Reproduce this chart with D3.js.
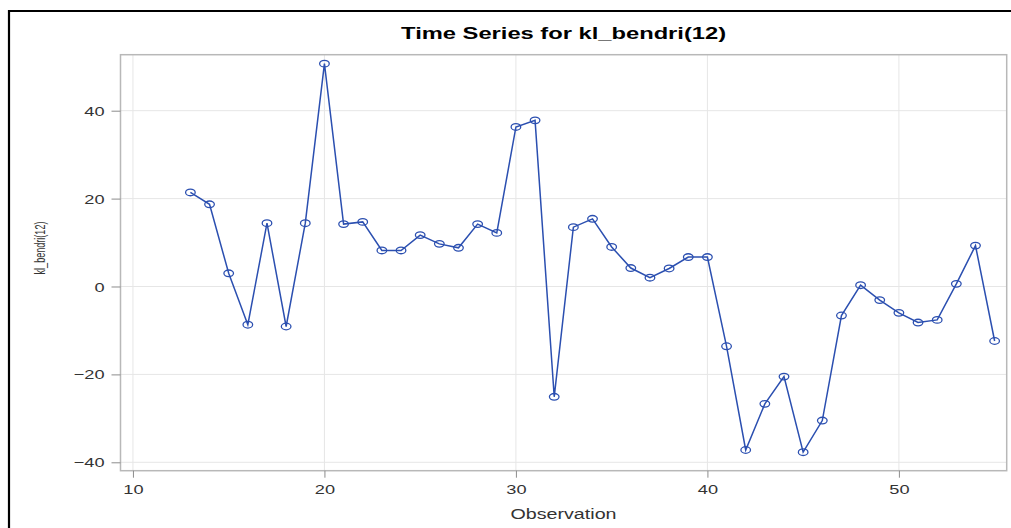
<!DOCTYPE html>
<html><head><meta charset="utf-8">
<script src="https://cdn.jsdelivr.net/npm/d3@7"></script>
<style>body{margin:0;background:#fff}svg{display:block}text{font-family:"Liberation Sans",Arial,sans-serif}</style>
</head><body><svg id="c" width="1011" height="528"></svg>
<script>
const title = "Time Series for kl_bendri(12)";
const xLabel = "Observation";
const yLabel = "kl_bendri(12)";
const observations = [13,14,15,16,17,18,19,20,21,22,23,24,25,26,27,28,29,30,31,32,33,34,35,36,37,38,39,40,41,42,43,44,45,46,47,48,49,50,51,52,53,54,55];
const values = [21.4,18.7,3.0,-8.7,14.4,-9.1,14.4,50.7,14.2,14.7,8.2,8.2,11.7,9.7,8.8,14.2,12.2,36.3,37.8,-25.1,13.5,15.4,9.0,4.2,2.0,4.1,6.7,6.7,-13.6,-37.2,-26.7,-20.5,-37.7,-30.5,-6.6,0.3,-3.1,-6.0,-8.2,-7.6,0.6,9.3,-12.4];
const xTicks = [10,20,30,40,50];
const yTicks = [-40,-20,0,20,40];

const svg = d3.select("#c");
const L = 120.5, R = 1006.7, T = 54.7, B = 470.7;
const SX = 1.4;
const x = d3.scaleLinear().domain([9.35, 55.63]).range([L, R]);
const y = d3.scaleLinear().domain([-41.91, 52.74]).range([B, T]);

// outer border
svg.append("path").attr("d", "M9,528V11H1011").attr("fill", "none").attr("stroke", "#000").attr("stroke-width", 2.2);

// gridlines
const g = svg.append("g");
g.selectAll(".gx").data(xTicks).join("line")
  .attr("x1", d => x(d)).attr("x2", d => x(d)).attr("y1", T).attr("y2", B)
  .attr("stroke", "#e6e6e6").attr("stroke-width", 1);
g.selectAll(".gy").data(yTicks).join("line")
  .attr("y1", d => y(d)).attr("y2", d => y(d)).attr("x1", L).attr("x2", R)
  .attr("stroke", "#e6e6e6").attr("stroke-width", 1);

// frame
svg.append("rect").attr("x", L).attr("y", T).attr("width", R - L).attr("height", B - T)
  .attr("fill", "none").attr("stroke", "#b8b8b8").attr("stroke-width", 1.5);

// axes
const xa = svg.append("g").attr("transform", `translate(0,${B})`)
  .call(d3.axisBottom(x).tickValues(xTicks).tickSize(7).tickSizeOuter(0));
xa.select(".domain").remove();
xa.selectAll("line").attr("stroke", "#8c8c8c");
xa.selectAll("text").attr("y", 0).attr("dy", 0).attr("transform", `translate(0,23.5) scale(${SX},1)`)
  .attr("font-size", 13).attr("fill", "#333");

const ya = svg.append("g").attr("transform", `translate(${L},0)`)
  .call(d3.axisLeft(y).tickValues(yTicks).tickSize(9).tickSizeOuter(0));
ya.select(".domain").remove();
ya.selectAll("line").attr("stroke", "#8c8c8c");
ya.selectAll("text").attr("x", 0).attr("dy", "0.35em").attr("transform", `translate(-16,0) scale(${SX},1)`)
  .attr("font-size", 13).attr("fill", "#333");

// line
const data = observations.map((o, i) => ({o, v: values[i]}));
svg.append("path").datum(data)
  .attr("d", d3.line().x(d => x(d.o)).y(d => y(d.v)))
  .attr("fill", "none").attr("stroke", "#2b4fb0").attr("stroke-width", 1.5);
svg.selectAll(".m").data(data).join("ellipse")
  .attr("cx", d => x(d.o)).attr("cy", d => y(d.v)).attr("rx", 4.8).attr("ry", 3.3)
  .attr("fill", "none").attr("stroke", "#2b4fb0").attr("stroke-width", 1.3);

// texts
svg.append("text").attr("x", (L + R) / 2).attr("y", 39.3).attr("text-anchor", "middle")
  .attr("font-size", 16).attr("font-weight", "bold").attr("fill", "#000")
  .attr("textLength", 325).attr("lengthAdjust", "spacingAndGlyphs").text(title);
svg.append("text").attr("x", 563.5).attr("y", 519).attr("text-anchor", "middle")
  .attr("font-size", 14).attr("fill", "#333")
  .attr("textLength", 106).attr("lengthAdjust", "spacingAndGlyphs").text(xLabel);
const yl = svg.append("text").attr("text-anchor", "middle")
  .attr("font-size", 10).attr("fill", "#333").text(yLabel);
const natural = yl.node().getComputedTextLength();
yl.attr("transform", `translate(45,248) rotate(-90) scale(${53 / natural},1.4)`);
</script></body></html>
